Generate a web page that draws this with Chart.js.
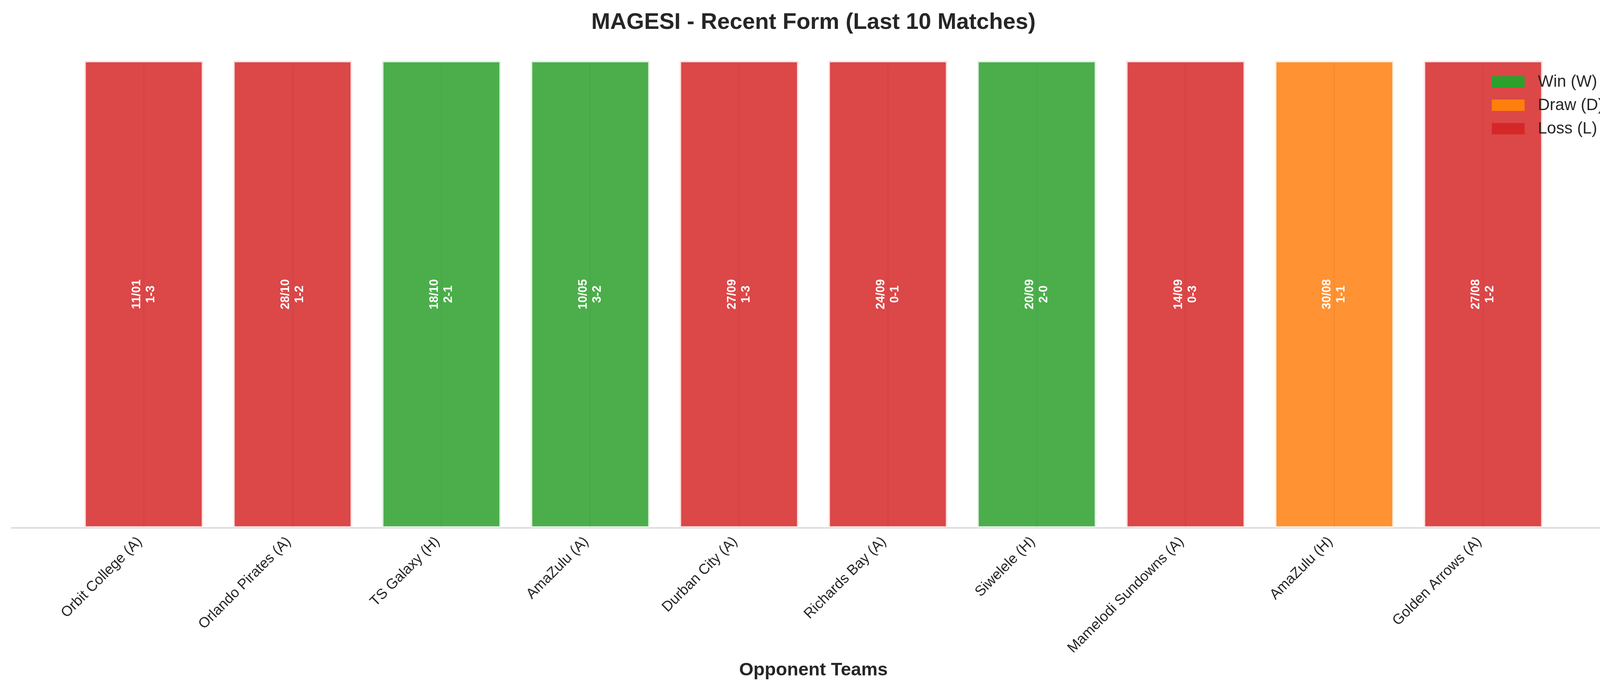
<!DOCTYPE html>
<html><head><meta charset="utf-8">
<script src="https://cdn.jsdelivr.net/npm/chart.js@4.4.1/dist/chart.umd.min.js"></script>
<style>html,body{margin:0;padding:0;background:#fff;overflow:hidden;} canvas{display:block;}</style>
</head><body>
<canvas id="c" width="4170" height="1770"></canvas>
<script>
const categories = ['Orbit College (A)','Orlando Pirates (A)','TS Galaxy (H)','AmaZulu (A)','Durban City (A)','Richards Bay (A)','Siwelele (H)','Mamelodi Sundowns (A)','AmaZulu (H)','Golden Arrows (A)'];
const matchDates = ['11/01','28/10','18/10','10/05','27/09','24/09','20/09','14/09','30/08','27/08'];
const scores = ['1-3','1-2','2-1','3-2','1-3','0-1','2-0','0-3','1-1','1-2'];
const results = ['L','L','W','W','L','L','W','L','D','L'];
const barValues = [1,1,1,1,1,1,1,1,1,1];
const legendOrder = ['W','D','L'];
const resultNames = {W:'Win (W)', D:'Draw (D)', L:'Loss (L)'};
const baseColors = {W:'#2ca02c', D:'#ff7f0e', L:'#d62728'};
const fillColors = {W:'rgba(44,160,44,0.85)', D:'rgba(255,127,14,0.85)', L:'rgba(214,39,40,0.85)'};
const edgeColors = {W:'#e4f3e4', D:'#ffefe0', L:'#fae3e3'};
const FONT = "'Liberation Sans', Arial, sans-serif";
const TEXT = '#262626';

Chart.defaults.font.family = FONT;

const centerLines = {
  id:'centerLines',
  afterDatasetsDraw(chart){
    const ctx = chart.ctx;
    const meta = chart.getDatasetMeta(0);
    ctx.save();
    ctx.strokeStyle = 'rgba(0,0,0,0.045)';
    ctx.lineWidth = 3;
    meta.data.forEach(el => {
      ctx.beginPath();
      ctx.moveTo(el.x, el.y + 4);
      ctx.lineTo(el.x, el.base);
      ctx.stroke();
    });
    ctx.restore();
  }
};

const barText = {
  id:'barText',
  afterDatasetsDraw(chart){
    const ctx = chart.ctx;
    const meta = chart.getDatasetMeta(0);
    ctx.save();
    ctx.fillStyle = '#ffffff';
    ctx.font = 'bold 31px ' + FONT;
    ctx.textAlign = 'center';
    ctx.textBaseline = 'middle';
    meta.data.forEach((el, i) => {
      const cy = (el.y + el.base) / 2;
      ctx.save();
      ctx.translate(el.x, cy);
      ctx.rotate(-Math.PI/2);
      ctx.fillText(matchDates[i], 0, -18);
      ctx.fillText(scores[i], 0, 18);
      ctx.restore();
    });
    ctx.restore();
  }
};

const legendBox = {
  id:'legendBox',
  afterDraw(chart){
    const ctx = chart.ctx;
    ctx.save();
    ctx.font = '42px ' + FONT;
    ctx.textBaseline = 'middle';
    ctx.textAlign = 'left';
    legendOrder.forEach((k, i) => {
      const cy = 209.5 + i * 60;
      ctx.fillStyle = baseColors[k];
      ctx.fillRect(3819, cy - 14.5, 84, 29);
      ctx.fillStyle = TEXT;
      ctx.fillText(resultNames[k], 3937, cy + 1);
    });
    ctx.restore();
  }
};

new Chart(document.getElementById('c'), {
  type:'bar',
  data:{
    datasets:[{
      data: barValues.map((v,i)=>({x:i, y:v})),
      backgroundColor: results.map(r=>fillColors[r]),
      borderColor: results.map(r=>edgeColors[r]),
      borderWidth: 4,
      borderSkipped: false,
      barPercentage: 0.8,
      categoryPercentage: 1.0
    }]
  },
  options:{
    responsive:false,
    devicePixelRatio:1,
    animation:false,
    layout:{padding:{top:0,left:29,right:34,bottom:0}},
    plugins:{
      legend:{display:false},
      tooltip:{enabled:false},
      title:{display:true, text:'MAGESI - Recent Form (Last 10 Matches)', color:TEXT,
        font:{size:58, weight:'bold'}, padding:{top:23,bottom:3}}
    },
    scales:{
      x:{
        type:'linear', min:-0.89, max:9.89, offset:false,
        afterBuildTicks: s => { s.ticks = categories.map((_,i)=>({value:i})); },
        afterFit: s => { s.height = 418; },
        grid:{display:false, drawTicks:false},
        border:{display:true, color:'#cccccc', width:2.5},
        ticks:{autoSkip:false, maxRotation:45, minRotation:45, padding:14, color:TEXT,
          font:{size:37}, labelOffset:-10,
          callback:(v)=> categories[v] !== undefined ? categories[v] : ''},
        title:{display:true, text:'Opponent Teams', color:TEXT, font:{size:47, weight:'bold'}, padding:{top:0,bottom:25}}
      },
      y:{display:false, min:0, max:1.05}
    }
  },
  plugins:[centerLines, barText, legendBox]
});
</script>
</body></html>
